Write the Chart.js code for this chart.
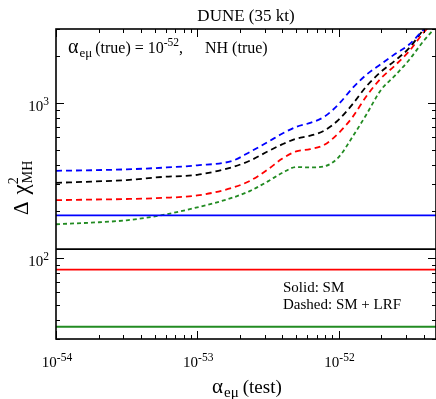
<!DOCTYPE html>
<html>
<head>
<meta charset="utf-8">
<script src="https://cdn.jsdelivr.net/npm/chart.js@4.4.1/dist/chart.umd.min.js"></script>
<style>
  html, body { margin: 0; padding: 0; background: #fff; }
  #wrap { width: 436px; height: 399px; }
</style>
</head>
<body>
<div id="wrap"><canvas id="dchi" width="436" height="399"></canvas></div>
<script>
// ── Data ──────────────────────────────────────────────────────
const alphaTest = [1e-54, 1.78e-54, 3.16e-54, 5.62e-54, 1e-53, 1.78e-53, 2.37e-53, 3.16e-53, 3.98e-53,
                   5.01e-53, 6.31e-53, 7.94e-53, 1e-52, 1.26e-52, 1.58e-52, 2e-52, 2.51e-52,
                   3.16e-52, 3.98e-52, 4.9e-52];

// dashed: SM + LRF
const lrfBlue  = [365, 368, 373, 382, 396, 424, 484, 560, 633, 700, 744, 815, 980, 1250, 1524, 1782, 2068, 2382, 2956, 3550];
const lrfBlack = [305, 311, 318, 333, 344, 386, 425, 487, 540, 588, 615, 664, 778, 984, 1284, 1591, 1874, 2256, 2956, 3600];
const lrfRed   = [236, 238, 240, 244, 253, 284, 315, 372, 436, 487, 503, 537, 638, 813, 1110, 1442, 1745, 2156, 2826, 3450];
const lrfGreen = [165, 169, 175, 189, 212, 245, 271, 312, 353, 386, 384, 390, 446, 607, 846, 1215, 1501, 1894, 2494, 3100];

// solid: SM only (flat in alpha)
const smBlue  = 188;
const smBlack = 114;
const smRed   = 84;
const smGreen = 36;

const xMin = 1e-54, xMax = 4.9e-52;
const yMin = 30,    yMax = 3000;

const xMajors = [-54, -53, -52];
const yMajors = [2, 3];

const GREEN = '#228B22';
const SERIF = '"Liberation Serif", "DejaVu Serif", serif';

const pts = arr => arr.map((v, i) => ({ x: alphaTest[i], y: v }));
const flat = v => [{ x: xMin, y: v }, { x: xMax, y: v }];

// ── Helpers ───────────────────────────────────────────────────
function powLabel(ctx, base, exp, x, y, size, supSize, align) {
    ctx.font = size + 'px ' + SERIF;
    const wb = ctx.measureText(base).width;
    ctx.font = supSize + 'px ' + SERIF;
    const we = ctx.measureText(exp).width;
    const tot = wb + we;
    let x0 = x;
    if (align === 'center') x0 = x - tot / 2;
    if (align === 'right')  x0 = x - tot;
    ctx.textAlign = 'left';
    ctx.textBaseline = 'alphabetic';
    ctx.font = size + 'px ' + SERIF;
    ctx.fillText(base, x0, y);
    ctx.font = supSize + 'px ' + SERIF;
    ctx.fillText(exp, x0 + wb, y - size * 0.42);
    return x0 + tot;
}

function txt(ctx, s, x, y, size) {
    ctx.font = size + 'px ' + SERIF;
    ctx.textAlign = 'left';
    ctx.textBaseline = 'alphabetic';
    ctx.fillText(s, x, y);
    return x + ctx.measureText(s).width;
}

// ── Frame, ticks and all text ────────────────────────────────
const framePlugin = {
    id: 'frame',
    afterDatasetsDraw(chart) {
        const { ctx, chartArea: a, scales } = chart;
        const xs = scales.x, ys = scales.y;
        ctx.save();
        ctx.strokeStyle = '#000';
        ctx.fillStyle = '#000';

        // frame
        ctx.lineWidth = 1.6;
        ctx.strokeRect(a.left, a.top, a.right - a.left, a.bottom - a.top);

        // ticks (inward, all four sides)
        ctx.lineWidth = 1;
        ctx.beginPath();
        for (let k = -54; k <= -52; k++) {
            for (let m = 1; m <= 9; m++) {
                const v = m * Math.pow(10, k);
                if (v < xMin * 0.999 || v > xMax) continue;
                const px = Math.round(xs.getPixelForValue(v)) + 0.5;
                const len = m === 1 ? 8 : 4;
                ctx.moveTo(px, a.bottom); ctx.lineTo(px, a.bottom - len);
                ctx.moveTo(px, a.top);    ctx.lineTo(px, a.top + len);
            }
        }
        for (let k = 1; k <= 3; k++) {
            for (let m = 1; m <= 9; m++) {
                const v = m * Math.pow(10, k);
                if (v < yMin * 0.999 || v > yMax * 1.001) continue;
                const py = Math.round(ys.getPixelForValue(v)) + 0.5;
                const len = m === 1 ? 8 : 4;
                ctx.moveTo(a.left, py);  ctx.lineTo(a.left + len, py);
                ctx.moveTo(a.right, py); ctx.lineTo(a.right - len, py);
            }
        }
        ctx.stroke();

        // tick labels
        xMajors.forEach(k => {
            powLabel(ctx, '10', String(k), xs.getPixelForValue(Math.pow(10, k)) + 1, a.bottom + 28, 15, 11.5, 'center');
        });
        yMajors.forEach(k => {
            powLabel(ctx, '10', String(k), a.left - 7, ys.getPixelForValue(Math.pow(10, k)) + 8, 15, 11.5, 'right');
        });

        // title
        ctx.font = '17px ' + SERIF;
        ctx.textAlign = 'center';
        ctx.fillText('DUNE (35 kt)', (a.left + a.right) / 2, 21);

        // x axis title
        let x = txt(ctx, 'α', 212, 393, 21);
        x = txt(ctx, 'eμ', x + 1, 397, 15);
        txt(ctx, '(test)', x + 4, 393, 19);

        // y axis title (rotated)
        ctx.save();
        ctx.translate(28, 215);
        ctx.rotate(-Math.PI / 2);
        let t = txt(ctx, 'Δ', 0, 0, 21);
        t = txt(ctx, 'χ', t + 7, 0, 23);
        txt(ctx, '2', t, -10, 14);
        txt(ctx, 'MH', t + 1, 4, 14);
        ctx.restore();

        // annotation, top left
        x = txt(ctx, 'α', 68, 53, 20);
        x = txt(ctx, 'eμ', x + 1, 57, 13);
        x = txt(ctx, '(true) = 10', x + 3, 53, 16);
        x = txt(ctx, '-52', x, 46, 11.5);
        txt(ctx, ',', x, 53, 16);
        txt(ctx, 'NH (true)', 205, 53, 16);

        // legend note
        txt(ctx, 'Solid: SM', 283, 292, 15);
        txt(ctx, 'Dashed: SM + LRF', 283, 309, 15);

        ctx.restore();
    }
};

// ── Chart ─────────────────────────────────────────────────────
const dashed = (data, color, dash) => ({
    data: pts(data), borderColor: color, borderWidth: 1.8, borderDash: dash,
    pointRadius: 0, fill: false, cubicInterpolationMode: 'monotone'
});
const solid = (v, color) => ({
    data: flat(v), borderColor: color, borderWidth: 1.8, pointRadius: 0, fill: false
});

new Chart(document.getElementById('dchi'), {
    type: 'line',
    data: {
        datasets: [
            solid(smBlue, '#0000ff'),
            solid(smBlack, '#000000'),
            solid(smRed, '#ff0000'),
            solid(smGreen, GREEN),
            dashed(lrfBlue,  '#0000ff', [6, 4]),
            dashed(lrfBlack, '#000000', [6, 4]),
            dashed(lrfRed,   '#ff0000', [6, 4]),
            dashed(lrfGreen, GREEN,     [4, 3])
        ]
    },
    options: {
        responsive: false,
        animation: false,
        devicePixelRatio: 1,
        layout: { padding: { left: 56, top: 29, right: 0, bottom: 60 } },
        plugins: { legend: { display: false }, tooltip: { enabled: false } },
        scales: {
            x: { type: 'logarithmic', min: xMin, max: xMax, display: false },
            y: { type: 'logarithmic', min: yMin, max: yMax, display: false }
        }
    },
    plugins: [framePlugin]
});
</script>
</body>
</html>
